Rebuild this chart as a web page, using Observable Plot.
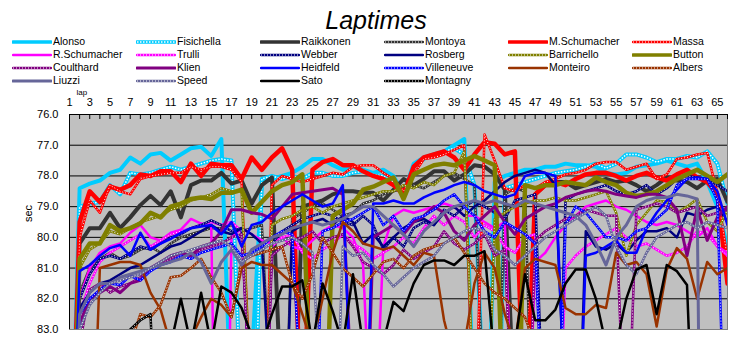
<!DOCTYPE html>
<html><head><meta charset="utf-8">
<script src="https://cdn.jsdelivr.net/npm/d3@7"></script>
<script src="https://cdn.jsdelivr.net/npm/@observablehq/plot@0.6"></script>
<style>
html,body{margin:0;padding:0;background:#fff;}
body{width:752px;height:343px;overflow:hidden;font-family:"Liberation Sans",Arial,sans-serif;color:#000;}
#head{position:relative;height:86px;}
#title{position:absolute;left:0;top:5px;width:752px;text-align:center;font-style:italic;font-size:25px;line-height:30px;}
#legend{position:absolute;left:12px;top:35px;display:grid;grid-template-columns:repeat(6,124px);grid-auto-rows:13px;}
.item{display:flex;align-items:center;font-size:10.5px;white-space:nowrap;line-height:13px;}
.item svg{width:40px;height:8px;flex:none;margin-right:1px;}
#chart svg{display:block;}
</style></head>
<body>
<div id="head"><div id="title">Laptimes</div><div id="legend"></div></div>
<div id="chart"></div>
<script>
const laps = [1,2,3,4,5,6,7,8,9,10,11,12,13,14,15,16,17,18,19,20,21,22,23,24,25,26,27,28,29,30,31,32,33,34,35,36,37,38,39,40,41,42,43,44,45,46,47,48,49,50,51,52,53,54,55,56,57,58,59,60,61,62,63,64,65,66];
const lapLabels = [1,3,5,7,9,11,13,15,17,19,21,23,25,27,29,31,33,35,37,39,41,43,45,47,49,51,53,55,57,59,61,63,65];
const yTicks = [76,77,78,79,80,81,82,83];
const drivers = ["Alonso","Fisichella","Raikkonen","Montoya","M.Schumacher","Massa","R.Schumacher","Trulli","Webber","Rosberg","Barrichello","Button","Coulthard","Klien","Heidfeld","Villeneuve","Monteiro","Albers","Liuzzi","Speed","Sato","Montagny"];

const Alonso = [90,78.4,78.25,78.15,77.9,77.8,77.4,77.6,77.3,77.25,
 77.5,77.3,77.1,77.05,77.35,76.8,86,90,84,78.2,
 78.1,78.0,77.9,77.7,77.45,77.45,77.65,77.8,77.7,77.8,
 77.9,77.8,78.0,78.6,77.6,77.4,77.3,77.2,77.0,76.8,
 86,92,78.2,78.0,77.9,77.8,77.8,77.7,77.7,77.6,
 77.65,77.65,77.7,77.9,77.95,77.9,77.7,77.65,77.6,77.5,
 77.6,77.7,77.6,78.2,79.0,80.3];
const Fisichella = [90,79.0,78.9,78.85,78.3,78.6,77.9,77.95,77.9,77.8,
 77.7,77.8,77.7,77.6,77.5,77.45,77.5,86,90,78.1,
 78.0,78.1,78.0,78.1,77.9,77.9,78.0,78.0,77.9,77.85,
 77.95,78.0,78.2,78.5,77.7,77.45,77.3,77.2,77.1,77.3,
 78.3,86,92,78.4,78.3,78.2,78.1,78.0,77.9,77.85,
 77.8,77.7,77.6,77.75,77.6,77.3,77.3,77.4,77.55,77.45,
 77.45,77.35,77.4,77.2,77.6,78.9];
const Raikkonen = [90,80.2,79.7,79.7,79.2,79.7,79.35,78.95,78.65,78.95,
 78.5,79.35,78.3,78.15,78.15,77.9,78.25,78.15,78.9,78.3,
 78.05,86,88,79.0,78.9,78.8,78.6,78.5,78.5,78.55,
 78.55,78.8,78.45,78.1,78.3,78.1,77.85,77.85,78.15,77.95,
 77.65,77.7,77.95,78.45,86,90,78.6,78.3,78.2,78.2,
 78.4,78.3,78.2,78.1,78.2,78.15,78.3,78.5,78.3,78.05,
 78.15,78.2,78.4,78.15,78.1,78.85];
const Montoya = [90,81.8,81.0,80.7,80.5,80.7,80.6,80.4,80.3,80.5,
 80.2,80.0,79.9,79.8,79.7,79.7,79.6,79.8,79.7,79.6,
 86,90,79.4,79.2,79.0,78.9,79.1,79.3,79.2,78.9,
 78.8,78.6,78.5,78.4,78.3,78.4,78.2,78.0,77.9,78.1,
 78.3,86,90,78.6,78.4,78.5,90,null,null,null,
 null,null,null,null,null,null,null,null,null,null,
 null,null,null,null,null,null];
const MSchumacher = [90,79.5,78.5,78.85,78.35,78.45,78.3,77.95,78.0,77.85,
 77.85,78.2,77.6,78.0,77.6,77.65,77.65,78.1,77.4,77.8,
 77.4,77.1,77.8,87,77.8,77.55,77.45,77.65,77.65,77.85,
 78.0,78.1,78.3,78.6,77.7,77.4,77.3,77.2,77.4,77.8,
 77.3,76.9,76.95,77.3,77.2,87,78.6,78.3,78.2,78.3,
 78.1,77.95,77.9,77.9,78.0,78.15,78.0,77.9,78.05,78.15,
 77.95,77.8,78.05,78.2,78.6,81.5];
const Massa = [90,80.0,78.8,79.2,78.3,78.5,78.6,78.1,78.0,77.95,
 77.9,77.9,77.7,77.8,77.7,77.7,77.8,78.2,86,90,
 78.3,78.0,78.1,78.2,78.1,78.0,77.9,77.95,77.7,77.65,
 77.65,77.9,78.1,78.5,77.95,77.45,77.4,77.3,77.15,77.0,
 87,76.65,77.5,78.4,78.5,78.3,78.4,78.2,78.1,77.95,
 77.9,77.8,77.6,77.55,77.55,77.8,77.7,77.6,78.1,77.95,
 77.45,77.4,77.3,77.25,78.55,80.7];
const RSchumacher = [90,82.0,81.0,80.5,80.3,80.2,79.85,79.6,80.0,80.1,
 79.85,79.75,79.4,79.55,79.6,100,80.0,79.7,79.9,80.1,
 80.2,80.0,80.3,80.4,80.1,79.8,79.6,79.7,80.0,80.9,
 88,80.3,79.3,79.1,79.2,79.1,79.0,78.9,79.0,79.3,
 79.3,79.5,79.7,79.5,88,90,80.8,80.5,80.0,79.6,
 79.3,79.0,78.9,78.8,79.0,79.1,79.3,79.5,79.6,79.5,
 79.6,79.8,80.0,79.7,80.3,80.5];
const Trulli = [90,82.5,81.5,80.8,80.5,80.3,80.1,79.9,80.3,80.1,
 79.9,79.8,79.7,79.6,79.5,79.6,79.5,79.8,86,90,
 80.3,80.0,79.9,80.5,80.7,80.4,80.2,79.9,80.2,80.4,
 80.7,80.5,80.3,80.0,80.2,79.7,79.3,79.6,79.3,79.5,
 80.0,79.6,79.8,80.3,80.5,80.0,79.9,88,90,81.0,
 80.6,80.3,80.1,79.9,79.7,80.0,80.3,80.2,80.4,80.6,
 80.5,80.3,79.8,79.9,80.3,80.6];
const Webber = [90,82.0,81.2,80.7,80.6,80.7,80.5,80.3,80.4,80.2,
 80.0,79.9,79.7,79.6,79.45,79.6,79.8,79.7,86,90,
 80.2,79.8,79.6,79.4,79.3,79.2,79.3,79.5,79.6,79.3,
 79.6,80.4,80.0,80.3,79.7,79.5,79.6,79.1,79.3,79.0,
 78.8,79.0,79.2,79.4,78.8,78.7,78.6,88,90,78.8,
 78.6,78.5,78.4,78.3,78.5,78.6,78.5,78.3,78.6,78.4,
 78.1,78.0,78.05,78.1,78.3,78.5];
const Rosberg = [90,82.3,81.8,81.5,81.4,81.2,81.0,80.9,80.7,80.5,
 80.3,80.2,80.0,79.8,79.6,79.8,79.9,79.7,79.9,80.2,
 86,90,79.8,79.6,79.5,79.4,79.6,79.3,79.5,80.2,
 79.9,80.3,80.0,79.7,79.5,79.4,79.6,79.2,79.0,79.3,
 79.0,78.8,78.5,78.2,78.0,77.9,77.8,77.9,78.3,86,
 90,79.8,80.3,80.4,80.2,80.5,80.1,79.8,79.8,79.7,
 80.0,79.2,79.3,79.1,79.0,79.5];
const Barrichello = [90,81.0,80.4,80.2,79.8,79.9,79.7,79.5,79.4,79.3,
 79.1,79.0,78.8,78.7,78.6,78.4,78.5,78.5,86,90,
 79.6,79.4,79.3,79.1,79.0,79.2,79.0,78.9,78.8,78.7,
 78.6,78.5,78.5,78.3,78.4,78.2,78.3,78.0,77.9,77.2,
 86,90,79.4,79.2,79.0,78.9,78.8,78.8,78.7,78.8,
 78.8,78.7,78.6,78.5,79.2,80.6,79.6,79.2,78.8,78.85,
 79.2,79.0,78.75,79.5,79.8,79.1];
const Button = [90,80.7,80.2,80.2,79.6,79.8,79.7,79.55,79.2,79.35,
 79.0,78.9,78.75,78.7,78.75,78.55,78.55,78.45,79.2,78.85,
 78.5,78.3,78.2,77.95,87,90,79.3,79.1,78.9,78.45,
 78.35,78.2,78.05,78.75,77.95,77.8,77.65,77.6,77.65,77.5,
 77.35,77.5,77.65,87,90,78.3,78.4,78.3,78.3,78.2,
 78.25,78.3,78.05,78.2,78.3,78.55,78.65,78.6,78.5,78.3,
 78.1,77.95,77.8,78.0,78.2,77.95];
const Coulthard = [90,83.5,81.7,81.5,81.8,81.6,81.5,81.3,81.0,80.9,
 80.7,80.5,80.6,80.4,80.3,80.2,80.0,79.9,86,90,
 80.6,80.3,80.1,80.0,79.8,80.2,80.0,79.9,80.3,80.8,
 81.0,81.2,80.9,80.4,80.7,80.5,80.3,79.8,80.2,80.4,
 80.2,79.9,80.6,80.4,88,90,80.1,79.8,79.6,79.4,
 79.3,79.1,79.2,79.3,79.3,88,79.1,79.0,78.9,79.0,
 79.2,79.1,79.0,79.3,79.2,79.1];
const Klien = [90,82.8,82.0,81.8,81.6,81.8,81.5,81.4,81.0,80.8,
 80.6,80.5,80.6,80.3,80.2,79.8,79.1,79.1,79.2,79.25,
 79.4,79.0,78.6,78.55,78.5,78.45,78.4,78.6,86,90,
 80.0,79.8,79.6,79.9,79.5,79.3,79.0,79.2,79.8,80.1,
 79.6,79.3,79.0,79.5,79.9,79.4,79.2,79.0,78.9,78.7,
 78.6,78.5,78.45,78.5,78.6,78.65,78.7,78.6,78.6,78.7,
 79.1,80.6,79.05,80.1,79.35,79.0];
const Heidfeld = [90,81.1,80.9,80.6,80.35,80.25,80.6,79.85,80.4,80.2,
 80.05,79.85,79.7,79.65,79.6,79.9,79.5,80.3,79.6,79.5,
 79.2,79.0,78.8,78.6,78.8,79.0,78.9,78.3,87,90,
 78.9,78.9,78.8,78.9,78.9,78.7,78.55,78.45,78.3,78.2,
 78.3,78.5,78.6,78.7,78.6,78.0,77.9,77.9,78.0,86,
 90,80.6,80.5,80.3,80.1,80.5,80.5,79.7,79.2,78.8,
 78.45,78.1,78.05,78.1,78.5,79.6];
const Villeneuve = [90,82.5,82.0,81.7,81.5,81.55,81.25,81.4,81.1,80.9,
 80.8,80.6,80.7,80.5,80.4,80.3,80.2,80.6,80.5,80.3,
 80.0,79.8,79.9,86,90,79.8,79.7,79.5,79.4,79.2,
 79.0,79.6,79.3,79.8,79.4,79.3,79.1,78.8,78.6,79.0,
 79.3,79.8,80.0,79.5,79.7,79.9,80.2,88,90,79.6,
 79.0,79.2,79.6,80.0,80.0,80.1,79.8,79.7,79.4,79.1,
 78.3,78.1,78.1,78.1,78.8,90];
const Monteiro = [90,90,90,81.0,80.9,80.8,80.8,80.9,81.8,82.35,
 83.5,84.0,83.3,82.6,82.0,82.2,82.6,81.0,80.8,80.9,
 80.9,81.2,81.5,82.5,83.5,82.0,80.5,79.5,79.8,80.2,
 80.3,80.4,80.3,80.6,80.9,80.5,80.6,82.7,84,83.5,
 81.5,80.5,81.0,82.5,83.5,81.0,80.7,80.8,80.9,82.3,
 82.5,82.5,82.2,82.3,80.5,80.9,80.8,81.2,82.9,81.05,
 80.35,80.7,82.0,80.8,81.2,81.0];
const Albers = [90,90,90,90,90,90,83.5,82.5,82.6,82.2,
 81.3,81.25,81.0,80.7,81.3,81.8,82.6,80.8,80.6,80.5,
 80.4,80.3,81.5,82.0,81.2,80.0,80.5,81.0,81.3,81.6,
 81.2,80.8,80.7,81.0,80.6,80.4,80.3,80.2,80.0,80.5,
 81.0,81.5,81.8,82.0,82.3,82.6,83.5,84,90,null,
 null,null,null,null,null,null,null,null,null,null,
 null,null,null,null,null,null];
const Liuzzi = [90,82.5,81.8,81.5,81.5,81.3,81.2,81.1,81.0,80.9,
 80.8,80.7,80.5,80.8,81.5,80.8,80.4,80.9,80.4,80.2,
 80.0,79.9,79.7,79.6,79.5,79.6,79.5,79.4,79.2,79.0,
 79.0,79.3,79.6,79.9,80.3,79.8,79.5,79.2,79.0,78.9,
 78.8,78.9,78.8,78.9,79.0,78.8,78.9,79.0,79.1,79.2,
 79.3,79.6,80.2,80.9,80.0,79.6,79.0,78.8,78.7,78.7,
 78.6,78.65,78.75,110,null,null];
const Speed = [90,83.0,82.2,81.8,81.5,81.4,81.3,81.2,81.0,80.8,
 80.6,80.5,80.4,80.3,80.2,80.1,80.3,80.8,80.6,80.4,
 80.2,80.1,80.0,80.2,80.5,86,90,80.3,80.6,80.5,
 80.9,81.2,81.6,81.3,81.0,80.8,80.6,80.2,80.0,79.8,
 79.7,79.8,80.4,80.6,80.9,80.6,80.3,80.0,79.8,79.6,
 79.4,79.2,79.0,79.3,80.3,80.9,81.2,80.5,80.0,79.8,
 79.6,79.5,79.7,79.5,79.6,79.7];
const Sato = [90,85,84.5,84.2,84.0,83.8,83.6,83.5,83.6,83.4,
 83.5,82.0,83.5,81.8,83.5,81.6,81.8,82.3,83.2,83.5,
 82.5,81.6,81.6,81.4,83.5,81.5,82.4,83.5,81.2,83.5,
 83.5,83.4,82.1,82.4,81.5,80.9,80.75,80.75,80.9,80.6,
 80.6,80.45,84,84,83.5,81.2,82.7,82.7,82.35,81.5,
 81.05,81.05,82.0,83.5,83.5,82.0,81.05,80.9,82.5,80.9,
 81.1,81.55,90,null,null,null];
const Montagny = [90,90,90,90,90,83.5,83.0,82.7,82.5,90,
 null,null,null,null,null,null,null,null,null,null,
 null,null,null,null,null,null,null,null,null,null,
 null,null,null,null,null,null,null,null,null,null,
 null,null,null,null,null,null,null,null,null,null,
 null,null,null,null,null,null,null,null,null,null,
 null,null,null,null,null,null];

const series = [Alonso,Fisichella,Raikkonen,Montoya,MSchumacher,Massa,RSchumacher,Trulli,Webber,Rosberg,Barrichello,Button,Coulthard,Klien,Heidfeld,Villeneuve,Monteiro,Albers,Liuzzi,Speed,Sato,Montagny];

// styles (colour, width, dotted)
const styles = [
 {c:"#00CCFF",w:4},{c:"#00CCFF",w:4,dot:"fat"},{c:"#333333",w:4},{c:"#333333",w:2.5,dot:"thin"},
 {c:"#FF0000",w:4.5},{c:"#FF0000",w:2.5,dot:"thin"},
 {c:"#FF00FF",w:2.5},{c:"#FF00FF",w:2.5,dot:"thin"},{c:"#000080",w:2.5,dot:"thin"},
 {c:"#000080",w:2.5},{c:"#808000",w:2.5,dot:"thin"},{c:"#808000",w:4.5},
 {c:"#800080",w:2.5,dot:"thin"},{c:"#800080",w:3},{c:"#0000FF",w:2.5},
 {c:"#0000FF",w:2.5,dot:"thin"},{c:"#993300",w:2.5},{c:"#993300",w:2.5,dot:"thin"},
 {c:"#666699",w:3},{c:"#666699",w:2.5,dot:"thin"},{c:"#000000",w:2.5},{c:"#000000",w:2.5,dot:"thin"}
];
const dotStyle = {fat:{w:1.5,d:"1.5,1.5"}, thin:{w:1,d:"1,2"}};

// legend
const legend = d3.select("#legend");
drivers.forEach((name,i)=>{
  const s = styles[i];
  const it = legend.append("div").attr("class","item");
  const sv = it.append("svg").attr("viewBox","0 0 40 8");
  const lw = Math.min(s.w, 3.5);
  sv.append("line").attr("x1",1).attr("x2",39).attr("y1",4).attr("y2",4)
    .attr("stroke",s.c).attr("stroke-width",lw).attr("stroke-linecap","round");
  if (s.dot) {
    const ds = dotStyle[s.dot];
    sv.append("line").attr("x1",1).attr("x2",39).attr("y1",4).attr("y2",4)
      .attr("stroke","#fff").attr("stroke-width",ds.w).attr("stroke-dasharray",ds.d);
  }
  it.append("span").text(name);
});

// chart
const marks = [
  Plot.frame({fill:"#C0C0C0", stroke:null}),
  Plot.ruleY(yTicks.slice(1,-1), {stroke:"black", strokeWidth:1})
];
drivers.forEach((name,i)=>{
  const s = styles[i];
  const rows = series[i].map((t,j)=>({driver:name, lap:laps[j], t}));
  marks.push(Plot.line(rows, {x:"lap", y:"t", stroke:s.c, strokeWidth:s.w, clip:true}));
  if (s.dot) {
    const ds = dotStyle[s.dot];
    marks.push(Plot.line(rows, {x:"lap", y:"t", stroke:"#fff", strokeWidth:ds.w, strokeDasharray:ds.d, strokeLinecap:"butt", clip:true}));
  }
});
marks.push(
  Plot.frame({stroke:"#808080"}),
  Plot.ruleY([yTicks[0]], {stroke:"black"}),
  Plot.ruleX([laps[0]], {stroke:"black"}),
  Plot.tickX(laps, {x:d=>d, stroke:"black", insetBottom:210}),
  Plot.text(["lap"], {frameAnchor:"top-left", dx:7, dy:-25, fontSize:8}),
  Plot.text(["sec"], {frameAnchor:"left", dx:-41, rotate:-90, fontSize:11})
);

const chart = Plot.plot({
  width:752, height:257,
  marginTop:28, marginBottom:14, marginLeft:69, marginRight:25,
  style:{fontSize:"11px", fontFamily:"'Liberation Sans', Arial, sans-serif", background:"white", color:"black", overflow:"visible"},
  x:{domain:[laps[0], laps[laps.length-1]], axis:"top", ticks:lapLabels, tickFormat:d=>String(d), tickSize:0, tickPadding:9, label:null},
  y:{domain:[yTicks[0], yTicks[yTicks.length-1]], reverse:true, ticks:yTicks, tickFormat:d=>d.toFixed(1), tickSize:0, tickPadding:11, label:null},
  marks
});
document.getElementById("chart").appendChild(chart);
</script>
</body></html>
